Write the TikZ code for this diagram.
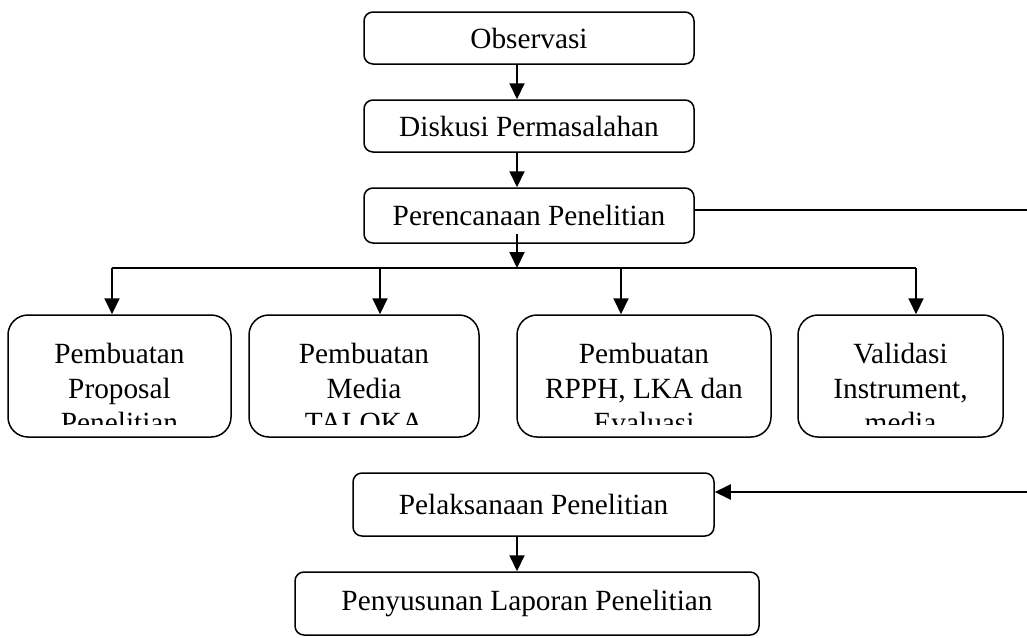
\documentclass[tikz,border=0pt]{standalone}
\usepackage{fontspec}
\setmainfont{Liberation Serif}
\usetikzlibrary{arrows.meta}
\begin{document}
\begin{tikzpicture}[x=1pt,y=-1pt,
  box/.style={draw, line width=1.5pt, rounded corners=9pt, inner sep=0pt, font=\fontsize{29.3}{34.5}\selectfont},
  lowbox/.style={draw, line width=1.5pt, rounded corners=20pt, inner sep=0pt, minimum height=122pt},
  lowtext/.style={inner sep=0pt, align=center, anchor=north, font=\fontsize{29.3}{34.5}\selectfont},
  arr/.style={line width=2pt, -{Triangle[length=16pt,width=15pt]}},
  conn/.style={line width=2pt}]
\useasboundingbox (0,0) rectangle (1027,637);
% top boxes
\node[box, minimum width=330pt, minimum height=52pt] (obs) at (529,38) {Observasi};
\node[box, minimum width=330pt, minimum height=52pt] (dis) at (529,126) {Diskusi Permasalahan};
\node[box, minimum width=330pt, minimum height=55pt] (per) at (529,215.5) {Perencanaan Penelitian};
\node[box, minimum width=361pt, minimum height=63pt] (pel) at (533.5,504.5) {Pelaksanaan Penelitian};
\node[box, minimum width=464pt, minimum height=63pt] (pen) at (527,603.5) {Penyusunan Laporan Penelitian};
% lower boxes
\node[lowbox, minimum width=223pt] (b1) at (119.5,376) {};
\node[lowbox, minimum width=230pt] (b2) at (364,376) {};
\node[lowbox, minimum width=254pt] (b3) at (644,376) {};
\node[lowbox, minimum width=205pt] (b4) at (900.5,376) {};
\begin{scope}
\clip (b1.north west) rectangle ([yshift=13pt]b1.south east);
\node[lowtext] (t1) at ([yshift=-29pt]b1.north) {Pembuatan\\Proposal\\Penelitian};
\end{scope}
\begin{scope}
\clip (b2.north west) rectangle ([yshift=13pt]b2.south east);
\node[lowtext] (t2) at ([yshift=-29pt]b2.north) {Pembuatan\\Media\\TALOKA};
\end{scope}
\begin{scope}
\clip (b3.north west) rectangle ([yshift=13pt]b3.south east);
\node[lowtext] (t3) at ([yshift=-29pt]b3.north) {Pembuatan\\RPPH, LKA dan\\Evaluasi};
\end{scope}
\begin{scope}
\clip (b4.north west) rectangle ([yshift=13pt]b4.south east);
\node[lowtext] (t4) at ([yshift=-29pt]b4.north) {Validasi\\Instrument,\\media};
\end{scope}
% helper coordinates
\coordinate (spine) at (517,0);
\coordinate (perin) at ([yshift=10pt]per.south);
\coordinate (d1) at (112,268);
\coordinate (d2) at (380,268);
\coordinate (d3) at (621,268);
\coordinate (d4) at (916,268);
\coordinate (E1) at (1027,210);
\coordinate (E2) at (1027,492);
% connectors
\draw[arr] (obs.south -| spine) -- (dis.north -| spine);
\draw[arr] (dis.south -| spine) -- (per.north -| spine);
\draw[arr] (perin -| spine) -- (d1 -| spine);
\draw[conn] (d1) -- (d4);
\draw[arr] (d1) -- (d1 |- b1.north);
\draw[arr] (d2) -- (d2 |- b2.north);
\draw[arr] (d3) -- (d3 |- b3.north);
\draw[arr] (d4) -- (d4 |- b4.north);
\draw[line width=1.6pt] (per.east |- E1) -- (E1);
\draw[arr] (E2) -- (E2 -| pel.east);
\draw[arr] (pel.south -| spine) -- (pen.north -| spine);
\end{tikzpicture}
\end{document}
